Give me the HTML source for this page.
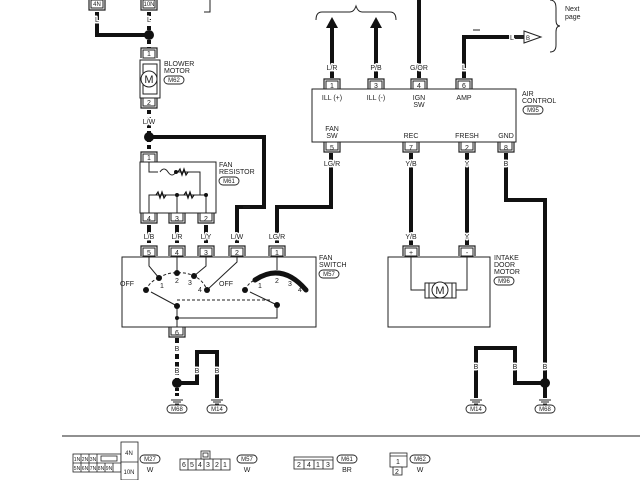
<!DOCTYPE html>
<html><head><meta charset="utf-8"><style>
html,body{margin:0;padding:0;background:#fff}
svg{display:block}
text{font-family:"Liberation Sans",sans-serif;font-size:7px;fill:#222}
.lb text{paint-order:stroke;stroke:#fff;stroke-width:3px;stroke-linejoin:round}
</style></head><body>
<svg width="640" height="480" viewBox="0 0 640 480" xmlns="http://www.w3.org/2000/svg">
<defs>
<g id="conn"><path d="M-8,0 V10 H8 V0" fill="none" stroke="#222" stroke-width="1.2"/><rect x="-6" y="0" width="12" height="8" fill="#fff" stroke="#222" stroke-width="1"/></g>
<g id="connU"><path d="M-8,10 V0 H8 V10" fill="none" stroke="#222" stroke-width="1.2"/><rect x="-6" y="2" width="12" height="8" fill="#fff" stroke="#222" stroke-width="1"/></g>
<g id="gnd"><line x1="-6" y1="0" x2="6" y2="0" stroke="#222"/><line x1="-4" y1="2" x2="4" y2="2" stroke="#222"/><line x1="-2" y1="4" x2="2" y2="4" stroke="#222"/></g>
</defs>
<g fill="none" stroke="#111" stroke-width="4">
<path d="M97,12 V35 H149"/>
<path d="M149,12 V48" stroke-dasharray="4,3"/>
<path d="M149,110 V152" stroke-dasharray="4,3"/>
<path d="M149,137 H264 V207 H237 V243"/>
<path d="M277,243 V207 H331 V153"/>
<path d="M149,225 V243 M177,225 V243 M206,225 V243"/>
<path d="M177,338 V383" stroke-dasharray="5,3"/>
<path d="M177,383 H197 V352 H217 V398"/>
<path d="M177,383 V398" stroke-dasharray="3,2"/>
<path d="M332,78 V26 M376,78 V26"/>
<path d="M419,78 V0"/>
<path d="M464,78 V37 H510"/>
<path d="M411,153 V245 M467,153 V245"/>
<path d="M506,153 V200 H545 V398"/>
<path d="M476,398 V348 H515 V383 H545"/>
</g>
<polygon points="326,28 332,17 338,28" fill="#111"/>
<polygon points="370,28 376,17 382,28" fill="#111"/>
<g fill="#111"><circle cx="149" cy="35" r="5"/><circle cx="149" cy="137" r="5"/><circle cx="177" cy="383" r="5"/><circle cx="545" cy="383" r="5"/></g>
<g fill="none" stroke="#222" stroke-width="1">
<path d="M210,0 V12 H204"/>
<path d="M316,20 Q316,12 322,12 H350 Q354,12 356,6 Q358,12 362,12 H390 Q396,12 396,20"/>
<path d="M550,0 Q556,0 556,8 V20 Q556,26 560,26 Q556,26 556,32 V45 Q556,52 550,52"/>
<polygon points="524,31 524,43 541,37" fill="#fff"/>
<line x1="514" y1="37" x2="524" y2="37" stroke-width="4"/>
<path d="M250,207 H243 M480,30 H473"/>
<rect x="140" y="60" width="20" height="38"/><rect x="143" y="64" width="14" height="30"/>
<circle cx="149" cy="79" r="8" fill="#fff"/>
<rect x="140" y="162" width="76" height="51"/>
<path d="M149,162 V172 H158"/><path d="M160,172 q4,-6 8,0 q4,6 8,0 H200 V195"/>
<path d="M149,213 V195 H206 V213 M177,195 V213"/>
<rect x="122" y="257" width="194" height="70"/>
<path d="M149,256 V266 L159,278 M177,256 V273 M206,256 V266 L194,276 M237,256 V262 L207,290"/>
<path d="M159,278 Q168,272 177,273 Q186,272 194,276 Q203,280 207,290" stroke-dasharray="3,2"/>
<path d="M146,290 Q150,281 159,278" stroke-dasharray="3,2"/>
<path d="M177,306 V327 M177,318 H277 V305"/>
<path d="M177,300 H270" stroke-dasharray="3,2"/>
<path d="M177,306 L151,292 M277,305 L250,292"/>
<path d="M277,256 V270"/>
<path d="M245,290 Q248,283 255,280" stroke-dasharray="3,2"/>
<rect x="312" y="89" width="204" height="53"/>
<rect x="388" y="257" width="102" height="70"/>
<path d="M411,256 V290 H425 M467,256 V290 H456"/>
<rect x="425" y="283" width="31" height="15" fill="#fff"/><rect x="429" y="283" width="23" height="15"/>
<circle cx="440" cy="290" r="8" fill="#fff"/>
<line x1="62" y1="436" x2="640" y2="436"/>
</g>
<path d="M255,280 Q282,262 306,290" fill="none" stroke="#111" stroke-width="5" stroke-linecap="round"/>
<g fill="#111"><circle cx="159" cy="278" r="3"/><circle cx="177" cy="273" r="3"/><circle cx="194" cy="276" r="3"/><circle cx="207" cy="290" r="3"/><circle cx="146" cy="290" r="3"/><circle cx="245" cy="290" r="3"/><circle cx="177" cy="306" r="3"/><circle cx="277" cy="305" r="3"/><circle cx="177" cy="318" r="2"/><circle cx="177" cy="195" r="2"/><circle cx="206" cy="195" r="2"/><circle cx="176" cy="172" r="2"/></g>
<g fill="none" stroke="#111" stroke-width="1.2">
<path d="M178,172 l2,-3 2,6 2,-6 2,6 2,-3"/>
<path d="M156,195 l2,-3 2,6 2,-6 2,6 2,-3"/>
<path d="M184,195 l2,-3 2,6 2,-6 2,6 2,-3"/>
</g>
<use href="#conn" x="97" y="0"/><use href="#conn" x="149" y="0"/>
<use href="#connU" x="149" y="48"/><use href="#conn" x="149" y="98"/>
<use href="#connU" x="149" y="152"/>
<use href="#conn" x="149" y="213"/><use href="#conn" x="177" y="213"/><use href="#conn" x="206" y="213"/>
<use href="#connU" x="149" y="246"/><use href="#connU" x="177" y="246"/><use href="#connU" x="206" y="246"/><use href="#connU" x="237" y="246"/><use href="#connU" x="277" y="246"/>
<use href="#conn" x="177" y="327"/>
<use href="#connU" x="332" y="79"/><use href="#connU" x="376" y="79"/><use href="#connU" x="419" y="79"/><use href="#connU" x="464" y="79"/>
<use href="#conn" x="332" y="142"/><use href="#conn" x="411" y="142"/><use href="#conn" x="467" y="142"/><use href="#conn" x="506" y="142"/>
<use href="#connU" x="411" y="246"/><use href="#connU" x="467" y="246"/>
<use href="#gnd" x="177" y="400"/><use href="#gnd" x="217" y="400"/><use href="#gnd" x="476" y="400"/><use href="#gnd" x="545" y="400"/>
<g text-anchor="middle">
<text x="97" y="6" style="font-size:6px">4N</text><text x="149" y="6" style="font-size:6px">10N</text>
<text x="149" y="56">1</text><text x="149" y="105">2</text><text x="149" y="160">1</text>
<text x="149" y="221">4</text><text x="177" y="221">3</text><text x="206" y="221">2</text>
<text x="149" y="255">5</text><text x="177" y="255">4</text><text x="206" y="255">3</text><text x="237" y="255">2</text><text x="277" y="255">1</text>
<text x="177" y="335">6</text>
<text x="332" y="88">1</text><text x="376" y="88">3</text><text x="419" y="88">4</text><text x="464" y="88">6</text>
<text x="332" y="150">5</text><text x="411" y="150">7</text><text x="467" y="150">2</text><text x="506" y="150">8</text>
<text x="411" y="255">+</text><text x="467" y="255">-</text>
</g>
<g text-anchor="middle" class="lb">
<text x="97" y="22">L</text><text x="149" y="22">L</text>
<text x="149" y="124">L/W</text>
<text x="149" y="239">L/B</text><text x="177" y="239">L/R</text><text x="206" y="239">L/Y</text><text x="237" y="239">L/W</text><text x="277" y="239">LG/R</text>
<text x="177" y="351">B</text><text x="177" y="373">B</text><text x="197" y="373">B</text><text x="217" y="373">B</text>
<text x="332" y="70">L/R</text><text x="376" y="70">P/B</text><text x="419" y="70">G/OR</text><text x="464" y="70">L</text>
<text x="332" y="166">LG/R</text><text x="411" y="166">Y/B</text><text x="467" y="166">Y</text><text x="506" y="166">B</text>
<text x="411" y="239">Y/B</text><text x="467" y="239">Y</text>
<text x="476" y="369">B</text><text x="515" y="369">B</text><text x="545" y="369">B</text>
<text x="512" y="40">L</text>
</g>
<g text-anchor="middle">
<text x="149" y="83" style="font-size:11px">M</text>
<text x="162" y="288">1</text><text x="177" y="283">2</text><text x="190" y="285">3</text><text x="200" y="292">4</text>
<text x="260" y="288">1</text><text x="277" y="283">2</text><text x="290" y="286">3</text><text x="300" y="292">4</text>
<text x="332" y="100">ILL (+)</text><text x="376" y="100">ILL (-)</text><text x="419" y="100">IGN</text><text x="419" y="107">SW</text><text x="464" y="100">AMP</text>
<text x="332" y="131">FAN</text><text x="332" y="138">SW</text><text x="411" y="138">REC</text><text x="467" y="138">FRESH</text><text x="506" y="138">GND</text>
<text x="440" y="294" style="font-size:11px">M</text>
<text x="528" y="40" style="font-size:6px">B</text>
</g>
<g>
<text x="164" y="66">BLOWER</text><text x="164" y="73">MOTOR</text>
<text x="219" y="167">FAN</text><text x="219" y="174">RESISTOR</text>
<text x="134" y="286" text-anchor="end">OFF</text><text x="233" y="286" text-anchor="end">OFF</text>
<text x="319" y="260">FAN</text><text x="319" y="267">SWITCH</text>
<text x="522" y="96">AIR</text><text x="522" y="103">CONTROL</text>
<text x="494" y="260">INTAKE</text><text x="494" y="267">DOOR</text><text x="494" y="274">MOTOR</text>
<text x="565" y="11">Next</text><text x="565" y="19">page</text>
</g>
<g fill="#fff" stroke="#222" stroke-width="0.9">
<rect x="164" y="76" width="20" height="8" rx="4"/><rect x="219" y="177" width="20" height="8" rx="4"/><rect x="319" y="270" width="20" height="8" rx="4"/>
<rect x="523" y="106" width="20" height="8" rx="4"/><rect x="494" y="277" width="20" height="8" rx="4"/>
<rect x="167" y="405" width="20" height="8" rx="4"/><rect x="207" y="405" width="20" height="8" rx="4"/><rect x="466" y="405" width="20" height="8" rx="4"/><rect x="535" y="405" width="20" height="8" rx="4"/>
<rect x="140" y="455" width="20" height="8" rx="4"/><rect x="237" y="455" width="20" height="8" rx="4"/><rect x="337" y="455" width="20" height="8" rx="4"/><rect x="410" y="455" width="20" height="8" rx="4"/>
</g>
<g text-anchor="middle">
<text x="174" y="82" style="font-size:6px">M62</text><text x="229" y="183" style="font-size:6px">M61</text><text x="329" y="276" style="font-size:6px">M57</text>
<text x="533" y="112" style="font-size:6px">M95</text><text x="504" y="283" style="font-size:6px">M96</text>
<text x="177" y="411" style="font-size:6px">M68</text><text x="217" y="411" style="font-size:6px">M14</text><text x="476" y="411" style="font-size:6px">M14</text><text x="545" y="411" style="font-size:6px">M68</text>
<text x="150" y="461" style="font-size:6px">M27</text><text x="247" y="461" style="font-size:6px">M57</text><text x="347" y="461" style="font-size:6px">M61</text><text x="420" y="461" style="font-size:6px">M62</text>
<text x="150" y="472">W</text><text x="247" y="472">W</text><text x="347" y="472">BR</text><text x="420" y="472">W</text>
</g>
<g fill="#fff" stroke="#222" stroke-width="0.8">
<rect x="73" y="454" width="48" height="18"/><line x1="73" y1="463" x2="121" y2="463"/>
<path d="M81,454V463M89,454V463M97,454V463M81,463V472M89,463V472M97,463V472M105,463V472M113,463V472"/>
<rect x="101" y="456" width="16" height="5"/>
<rect x="121" y="442" width="17" height="38"/><line x1="121" y1="462" x2="138" y2="462"/>
<rect x="180" y="459" width="50" height="11"/><path d="M188,459V470M196,459V470M204,459V470M213,459V470M221,459V470"/>
<rect x="201" y="451" width="9" height="8"/><rect x="203" y="453" width="5" height="4"/>
<rect x="294" y="457" width="39" height="12"/><line x1="294" y1="460" x2="333" y2="460"/><path d="M304,460V469M314,460V469M323,460V469"/>
<rect x="390" y="453" width="17" height="14"/><line x1="390" y1="456" x2="407" y2="456"/><rect x="393" y="467" width="9" height="8"/>
</g>
<g text-anchor="middle">
<text x="77" y="461" style="font-size:5px">1N</text><text x="85" y="461" style="font-size:5px">2N</text><text x="93" y="461" style="font-size:5px">3N</text>
<text x="77" y="470" style="font-size:5px">5N</text><text x="85" y="470" style="font-size:5px">6N</text><text x="93" y="470" style="font-size:5px">7N</text><text x="101" y="470" style="font-size:5px">8N</text><text x="109" y="470" style="font-size:5px">9N</text>
<text x="129" y="455" style="font-size:6px">4N</text><text x="129" y="474" style="font-size:6px">10N</text>
<text x="184" y="467">6</text><text x="192" y="467">5</text><text x="200" y="467">4</text><text x="208" y="467">3</text><text x="217" y="467">2</text><text x="225" y="467">1</text>
<text x="299" y="467">2</text><text x="309" y="467">4</text><text x="318" y="467">1</text><text x="328" y="467">3</text>
<text x="398" y="464">1</text><text x="397" y="474">2</text>
</g>
</svg>
</body></html>
